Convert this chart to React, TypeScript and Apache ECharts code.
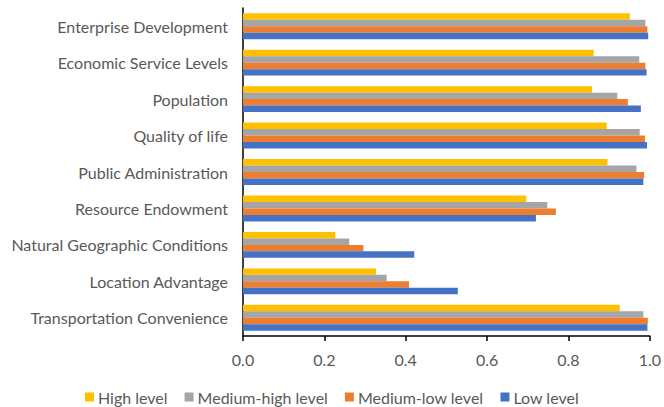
import React, { useEffect, useRef } from "react";
import * as echarts from "echarts";

const categories = [
  "Transportation Convenience",
  "Location Advantage",
  "Natural Geographic Conditions",
  "Resource Endowment",
  "Public Administration",
  "Quality of life",
  "Population",
  "Economic Service Levels",
  "Enterprise Development",
];

const seriesNames = ["High level", "Medium-high level", "Medium-low level", "Low level"];
const highLevel = [0.926, 0.327, 0.227, 0.696, 0.896, 0.894, 0.858, 0.862, 0.951];
const mediumHighLevel = [0.984, 0.353, 0.261, 0.748, 0.967, 0.975, 0.92, 0.974, 0.989];
const mediumLowLevel = [0.995, 0.408, 0.296, 0.769, 0.986, 0.988, 0.946, 0.989, 0.994];
const lowLevel = [0.994, 0.528, 0.421, 0.72, 0.984, 0.993, 0.978, 0.992, 0.996];
const colors = ["#FFC000", "#A5A5A5", "#ED7D31", "#4472C4"];

export default function App() {
  const ref = useRef<HTMLDivElement>(null);
  useEffect(() => {
    if (!ref.current) return;
    const chart = echarts.init(ref.current, undefined, { renderer: "svg" });
    const values = [highLevel, mediumHighLevel, mediumLowLevel, lowLevel];
    const font = "Lato, 'Open Sans', sans-serif";
    chart.setOption({
      animation: false,
      textStyle: { fontFamily: font },
      grid: { left: 243, right: 10, top: 8, bottom: 71, containLabel: false },
      legend: {
        data: seriesNames,
        top: 384,
        left: "center",
        itemWidth: 9,
        itemHeight: 9,
        itemGap: 17,
        icon: "rect",
        textStyle: { color: "#595959", fontSize: 16, fontFamily: font, padding: [0, 0, 0, -1] },
      },
      xAxis: {
        type: "value",
        min: 0,
        max: 1,
        interval: 0.2,
        axisLine: { show: true, lineStyle: { color: "#000", width: 1.5 } },
        axisTick: { show: true, length: 5, lineStyle: { color: "#000", width: 1.5 } },
        splitLine: { show: false },
        axisLabel: {
          color: "#595959",
          fontSize: 16,
          margin: 15,
          formatter: (v: number) => v.toFixed(1),
        },
      },
      yAxis: {
        type: "category",
        data: categories,
        axisLine: { show: true, lineStyle: { color: "#000", width: 1.5 } },
        axisTick: { show: false },
        axisLabel: { color: "#595959", fontSize: 16, margin: 15 },
      },
      series: seriesNames.map((name, i) => ({
        name,
        type: "bar",
        data: values[i],
        barGap: "0%",
        barCategoryGap: "29%",
        itemStyle: { color: colors[i] },
      })),
    });
    return () => chart.dispose();
  }, []);
  return <div ref={ref} style={{ width: 664, height: 407, position: "absolute", left: 0, top: 0 }} />;
}
